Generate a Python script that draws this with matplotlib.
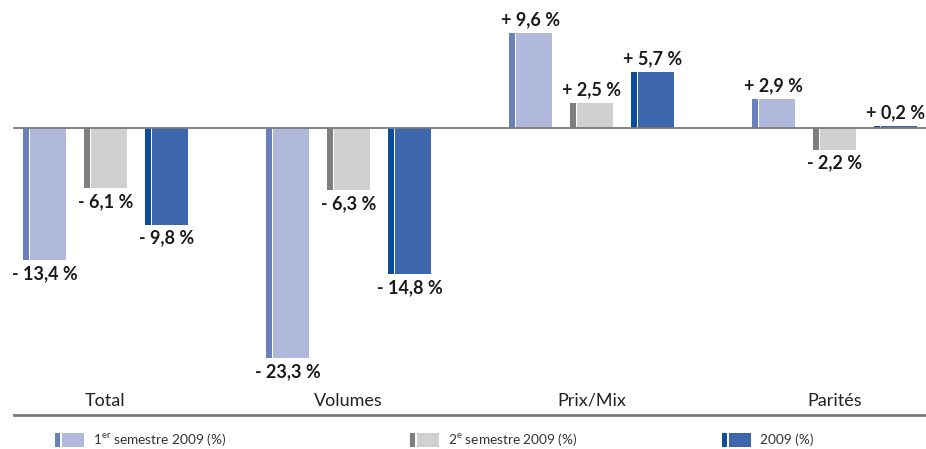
import matplotlib
matplotlib.use("Agg")
import matplotlib.pyplot as plt

categories = ["Total", "Volumes", "Prix/Mix", "Parités"]
series_names = ["1er semestre 2009 (%)", "2e semestre 2009 (%)", "2009 (%)"]
h1_2009 = [-13.4, -23.3, 9.6, 2.9]
h2_2009 = [-6.1, -6.3, 2.5, -2.2]
y_2009 = [-9.8, -14.8, 5.7, 0.2]
series = [h1_2009, h2_2009, y_2009]

dark = ["#6a80bd", "#7f7f7f", "#0b4c9c"]
light = ["#b0b9dc", "#d0d0d0", "#3e66ac"]

W, H = 926, 449
zero_px = 128
px_per_unit = 9.87

fig = plt.figure(figsize=(W / 100, H / 100), dpi=100)
ax = fig.add_axes([0, 0, 1, 1])
ax.set_xlim(0, W)
ax.set_ylim(-(H - zero_px) / px_per_unit, zero_px / px_per_unit)
ax.axis("off")

font = "Lato"
group_start = 23
group_step = 243
series_step = 61
strip_w, gap, body_w = 6, 1, 36

for i, cat in enumerate(categories):
    for s, vals in enumerate(series):
        v = vals[i]
        x0 = group_start + group_step * i + series_step * s
        ax.bar(x0, v, width=strip_w, align="edge", color=dark[s], linewidth=0, zorder=2)
        ax.bar(x0 + strip_w + gap, v, width=body_w, align="edge", color=light[s], linewidth=0, zorder=2)
        xc = x0 + (strip_w + gap + body_w) / 2
        sign = "+" if v >= 0 else "-"
        txt = f"{sign} {abs(v):.1f} %".replace(".", ",")
        off = 0.5
        if v >= 0:
            ax.text(xc, v + off, txt, ha="center", va="bottom", fontsize=13,
                    fontweight="bold", family=font, color="#1a1a1a")
        else:
            ax.text(xc, v - off, txt, ha="center", va="top", fontsize=13,
                    fontweight="bold", family=font, color="#1a1a1a")
    gc = group_start + group_step * i + (2 * series_step + strip_w + gap + body_w) / 2
    fig.text(gc / W, 1 - 401 / H, cat, ha="center", va="center", fontsize=13,
             family=font, color="#222222")

# zero line and bottom rule
ax.axhline(0, xmin=14 / W, xmax=1, color="#7a7a7a", lw=1.3, zorder=3)
fig.add_artist(plt.Line2D([14 / W, 1], [1 - 415 / H, 1 - 415 / H], color="#7a7a7a", lw=2))

# legend
leg_x = [55, 410, 722]
leg_y = 1 - 440 / H
for s, name in enumerate(series_names):
    x = leg_x[s]
    fig.add_artist(plt.Rectangle((x / W, leg_y - 7 / H), 5 / W, 14 / H, color=dark[s], lw=0))
    fig.add_artist(plt.Rectangle(((x + 7) / W, leg_y - 7 / H), 22 / W, 14 / H, color=light[s], lw=0))
    if s == 0:
        label = r"1$^{\mathregular{er}}$ semestre 2009 (%)"
    elif s == 1:
        label = r"2$^{\mathregular{e}}$ semestre 2009 (%)"
    else:
        label = name
    fig.text((x + 38) / W, leg_y, label, ha="left", va="center", fontsize=9.8,
             family=font, color="#333333")

fig.savefig("out.png", dpi=100)
